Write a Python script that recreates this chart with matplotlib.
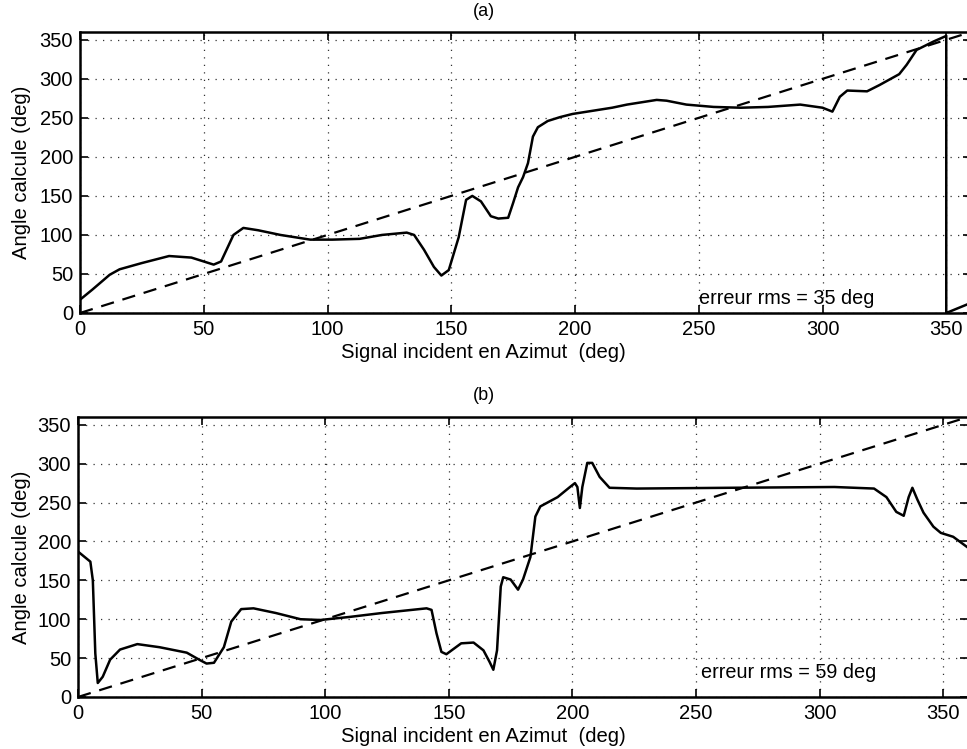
import matplotlib
matplotlib.use("Agg")
import matplotlib.pyplot as plt

# ---- data ----
top_x = [0, 5, 12, 16, 25, 36, 45, 54, 57, 62, 66, 72, 81, 93, 102, 113, 122, 132, 135,
         139, 143, 146, 149, 153, 156, 158.5, 162, 166, 169, 173, 175, 177, 179, 181, 183,
         185, 189, 194, 199, 207, 215, 221, 233, 237, 245, 256, 267, 278, 291, 300, 304,
         307, 310, 318, 323, 331, 334, 338, 345, 350, 350, 360]
top_y = [17, 30, 49, 56, 64, 73, 71, 62, 66, 100, 109, 106, 100, 94, 94, 95, 100, 103, 100,
         81, 59, 48, 55, 97, 145, 150, 143, 124, 121, 122, 141, 161, 174, 192, 226,
         238, 246, 251, 255, 259, 263, 267, 273, 272, 267, 264, 263, 264, 267, 263, 258,
         277, 285, 284, 292, 306, 318, 337, 348, 355, 0, 13]

bot_x = [0, 5, 6, 7, 8, 10, 13, 17, 24, 33, 44, 49, 52, 55, 59, 62, 66, 71, 80, 90, 98,
         110, 123, 141, 143, 145, 147, 149, 155, 160, 164, 166.5, 168, 169.5, 171, 172,
         175, 178, 180, 183, 185, 187, 194, 199, 201, 202, 203, 204, 206, 208, 211, 215,
         226, 264, 306, 322, 327, 331, 334, 336, 337.5, 339.5, 342, 346, 349, 354, 360]
bot_y = [187, 174, 150, 56, 18, 26, 48, 61, 68, 64, 57, 48, 43, 44, 64, 97, 113, 114, 108,
         100, 99, 103, 108, 114, 112, 82, 58, 55, 69, 70, 60, 45, 35, 60, 142, 154,
         151, 138, 151, 180, 232, 245, 257, 270, 275, 270, 243, 270, 301, 301, 283, 269,
         268, 269, 270, 268, 257, 238, 233, 257, 269, 254, 237, 219, 211, 206, 192]

ref_x = [0, 360]
ref_y = [0, 360]

ticks = [0, 50, 100, 150, 200, 250, 300, 350]
titles = ["(a)", "(b)"]
errors = ["erreur rms = 35 deg", "erreur rms = 59 deg"]
err_pos = [(250, 19), (252, 31)]
xlabel = "Signal incident en Azimut  (deg)"
ylabel = "Angle calcule (deg)"

plt.rcParams['font.family'] = ['Liberation Sans', 'DejaVu Sans']

W, H = 967, 749
fig = plt.figure(figsize=(W / 100, H / 100), dpi=100)

# axes rectangles in pixel coordinates: left, top, right, bottom
rects = [(80, 32, 971, 313), (78, 417, 968, 697)]
title_y = [12, 395]
xlabel_y = [352, 737]
data = [(top_x, top_y), (bot_x, bot_y)]

for i in range(2):
    l, t, r, b = rects[i]
    ax = fig.add_axes([l / W, 1 - b / H, (r - l) / W, (b - t) / H])
    x, y = data[i]
    ax.plot(ref_x, ref_y, color='black', lw=1.6, linestyle=(0, (6, 4)))
    ax.plot(x, y, color='black', lw=1.8)
    ax.set_xlim(0, 360)
    ax.set_ylim(0, 360)
    ax.set_xticks(ticks)
    ax.set_yticks(ticks)
    ax.tick_params(direction='in', length=6, width=1.2, labelsize=14.5,
                   top=True, right=True, pad=5)
    ax.grid(True, linestyle=(0, (1, 5)), color='black', lw=0.9, alpha=0.8)
    for s in ax.spines.values():
        s.set_linewidth(1.8)
    ex, ey = err_pos[i]
    ax.text(ex, ey, errors[i], fontsize=14.3, va='center', ha='left')
    fig.text(0.5, 1 - title_y[i] / H, titles[i], ha='center', va='center', fontsize=13)
    fig.text(0.5, 1 - xlabel_y[i] / H, xlabel, ha='center', va='center', fontsize=14.6)
    fig.text(22 / W, 1 - ((t + b) / 2) / H, ylabel, ha='center', va='center',
             rotation=90, fontsize=14.6)

fig.savefig("out.png", dpi=100)
